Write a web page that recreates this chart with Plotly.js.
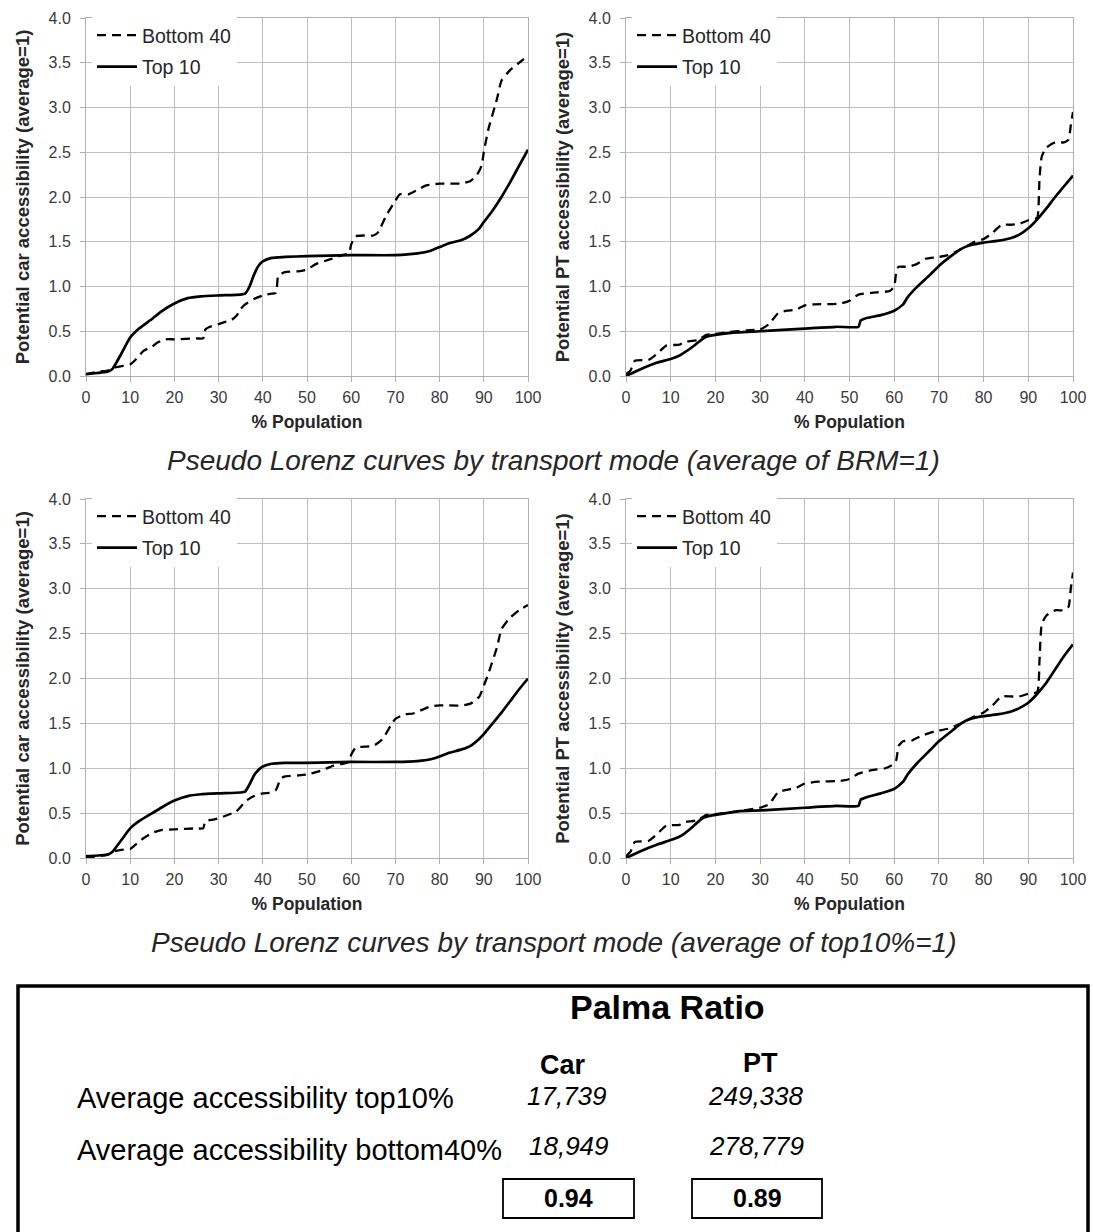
<!DOCTYPE html>
<html>
<head>
<meta charset="utf-8">
<script src="https://cdn.plot.ly/plotly-3.0.1.min.js"></script>
<style>html,body{margin:0;padding:0;background:#fff}#chart{width:1093px;height:1232px}</style>
</head>
<body>
<div id="chart"></div>
<script>
// ---- Data ----
// Panel A: car, average of BRM = 1
const carBrmTopX = [0,5,6,8,10,12,15,17,20,23,26,30,35,36,37,38,39,40,42,45,50,60,70,75,78,80,82,85,87,89,90,92,94,96,98,100];
const carBrmTopY = [0.02,0.05,0.08,0.25,0.43,0.53,0.64,0.72,0.81,0.87,0.89,0.90,0.91,0.92,1.0,1.13,1.23,1.28,1.32,1.33,1.34,1.35,1.35,1.37,1.40,1.44,1.48,1.52,1.57,1.65,1.72,1.85,2.0,2.17,2.35,2.53];
const carBrmBotX = [0,3,5,6,8,10,11,13,15,16,18,20,25,26.5,27,28,30,33,34,35,36,38,40,42,43,43.5,45,48,50,52,55,58,59.5,60,61,63,65,66,68,70,71,73,75,77,80,85,87,88.5,89.5,90,91,93,94,96,98,100];
const carBrmBotY = [0.02,0.05,0.06,0.09,0.11,0.13,0.17,0.28,0.33,0.37,0.41,0.41,0.42,0.42,0.52,0.55,0.58,0.63,0.67,0.75,0.80,0.86,0.90,0.92,0.93,1.12,1.16,1.17,1.19,1.25,1.30,1.35,1.37,1.47,1.56,1.57,1.57,1.60,1.80,1.96,2.03,2.03,2.08,2.13,2.15,2.15,2.18,2.25,2.35,2.50,2.75,3.10,3.30,3.42,3.50,3.58];
// Panel B: PT, average of BRM = 1
const ptBrmTopX = [0,3,7,10,12,13,15,17,18,20,23,30,40,47,52,52.5,54,57,60,62,63,65,68,70,73,75,77,80,83,86,88,90,92,94,96,98,100];
const ptBrmTopY = [0.0,0.07,0.15,0.19,0.23,0.26,0.33,0.41,0.44,0.46,0.48,0.50,0.53,0.55,0.55,0.62,0.65,0.68,0.73,0.80,0.88,0.99,1.13,1.23,1.35,1.42,1.46,1.49,1.51,1.54,1.58,1.65,1.75,1.87,2.0,2.12,2.24];
const ptBrmBotX = [0,1,2,5,7,9,12,13,16,18,20,23,27,30,32,34,36,38,40,42,48,50,52,55,59,60,60.5,61,63,65,67,70,72,75,78,80,82,84,86,88,90,91,92,92.5,93,94,96,98,99,99.5,100];
const ptBrmBotY = [0.02,0.06,0.17,0.18,0.25,0.34,0.35,0.38,0.40,0.46,0.47,0.49,0.51,0.52,0.58,0.70,0.73,0.74,0.79,0.80,0.81,0.84,0.91,0.93,0.95,1.0,1.18,1.22,1.22,1.25,1.31,1.33,1.35,1.42,1.50,1.53,1.60,1.69,1.69,1.70,1.74,1.75,1.77,2.2,2.45,2.55,2.61,2.61,2.64,2.80,2.95];
// Panel C: car, average of top10% = 1
const carTopTopX = [0,5,6,8,10,12,15,17,20,23,26,30,35,36,37,38,39,40,42,45,50,60,70,75,78,80,82,85,87,89,90,92,94,96,98,100];
const carTopTopY = [0.02,0.04,0.07,0.20,0.33,0.41,0.50,0.56,0.64,0.69,0.71,0.72,0.73,0.74,0.82,0.92,0.98,1.02,1.05,1.06,1.06,1.07,1.07,1.08,1.10,1.13,1.17,1.21,1.25,1.33,1.38,1.50,1.62,1.75,1.88,2.0];
const carTopBotX = [0,3,5,6,8,10,11,13,15,17,20,25,26.5,27,29,31,34,35,36,38,40,42,43,44,45,48,50,53,56,58,59.5,60,61,63,65,67,69,70,72,74,76,78,80,85,87,89,90,91,93,94,96,98,100];
const carTopBotY = [0.01,0.02,0.04,0.07,0.09,0.10,0.14,0.22,0.28,0.31,0.32,0.33,0.33,0.41,0.43,0.46,0.52,0.57,0.63,0.69,0.72,0.73,0.76,0.88,0.91,0.92,0.93,0.97,1.03,1.05,1.07,1.15,1.23,1.24,1.25,1.32,1.48,1.55,1.60,1.61,1.65,1.69,1.70,1.70,1.72,1.80,1.92,2.05,2.35,2.55,2.68,2.76,2.82];
// Panel D: PT, average of top10% = 1
const ptTopTopX = [0,3,7,10,12,13,15,17,18,20,25,30,40,47,52,52.5,54,57,60,62,63,65,68,70,73,75,77,80,83,86,88,90,92,94,96,98,100];
const ptTopTopY = [0.0,0.07,0.15,0.20,0.24,0.27,0.35,0.44,0.46,0.48,0.52,0.53,0.56,0.58,0.58,0.65,0.68,0.72,0.77,0.85,0.93,1.05,1.20,1.30,1.42,1.50,1.55,1.58,1.60,1.63,1.67,1.73,1.83,1.95,2.10,2.25,2.38];
const ptTopBotX = [0,1,2,5,7,9,12,13,16,18,20,25,30,32,34,36,38,40,43,48,50,52,55,58,60,60.5,61,62,64,66,69,72,75,78,80,82,84,86,88,90,92,92.5,93,94,96,98,99,99.5,100];
const ptTopBotY = [0.02,0.07,0.18,0.19,0.27,0.36,0.37,0.40,0.42,0.48,0.49,0.52,0.56,0.60,0.73,0.76,0.78,0.83,0.85,0.86,0.88,0.94,0.98,1.0,1.05,1.10,1.25,1.30,1.31,1.36,1.41,1.44,1.50,1.58,1.62,1.70,1.80,1.80,1.80,1.83,1.85,2.2,2.6,2.7,2.76,2.76,2.8,3.0,3.18];

const seriesNames = ['Bottom 40', 'Top 10'];
const xTicks = [0,10,20,30,40,50,60,70,80,90,100];
const yTicks = [0,0.5,1,1.5,2,2.5,3,3.5,4];
const yTickText = ['0.0','0.5','1.0','1.5','2.0','2.5','3.0','3.5','4.0'];
const xTitle = '% Population';
const yTitles = ['Potential car accessibility (average=1)', 'Potential PT accessibility (average=1)',
                 'Potential car accessibility (average=1)', 'Potential PT accessibility (average=1)'];
const captions = ['Pseudo Lorenz curves by transport mode (average of BRM=1)',
                  'Pseudo Lorenz curves by transport mode (average of top10%=1)'];
const tableTitle = 'Palma Ratio';
const tableCols = ['Car', 'PT'];
const tableRows = ['Average accessibility top10%', 'Average accessibility bottom40%'];
const carValues = ['17,739', '18,949'];
const ptValues = ['249,338', '278,779'];
const palma = ['0.94', '0.89'];

// ---- Layout helpers ----
const W = 1093, H = 1232;
const px = v => v / W;
const py = v => 1 - v / H;
const FONT = 'Liberation Sans, Arial, sans-serif';

const panels = [
  {top: carBrmTopX, topY: carBrmTopY, bot: carBrmBotX, botY: carBrmBotY},
  {top: ptBrmTopX, topY: ptBrmTopY, bot: ptBrmBotX, botY: ptBrmBotY},
  {top: carTopTopX, topY: carTopTopY, bot: carTopBotX, botY: carTopBotY},
  {top: ptTopTopX, topY: ptTopTopY, bot: ptTopBotX, botY: ptTopBotY}
];
const boxes = [
  {x0: 86, x1: 528, y0: 18, y1: 376},
  {x0: 626, x1: 1073, y0: 18, y1: 376},
  {x0: 86, x1: 528, y0: 499, y1: 858},
  {x0: 626, x1: 1073, y0: 499, y1: 858}
];

const traces = [];
const layout = {
  width: W, height: H,
  margin: {l: 0, r: 0, t: 0, b: 0},
  paper_bgcolor: '#fff', plot_bgcolor: '#fff',
  font: {family: FONT, color: '#262626'},
  showlegend: true,
  shapes: [], annotations: []
};

panels.forEach((p, i) => {
  const n = i + 1;
  const xa = n === 1 ? 'x' : 'x' + n;
  const ya = n === 1 ? 'y' : 'y' + n;
  const lg = n === 1 ? 'legend' : 'legend' + n;
  traces.push({
    x: p.bot, y: p.botY, xaxis: xa, yaxis: ya, type: 'scatter', mode: 'lines',
    name: seriesNames[0], legend: lg, legendgroup: 'b' + n,
    line: {color: '#000', width: 2.3, dash: '9px,6px', shape: 'spline', smoothing: 0.5}
  });
  traces.push({
    x: p.top, y: p.topY, xaxis: xa, yaxis: ya, type: 'scatter', mode: 'lines',
    name: seriesNames[1], legend: lg, legendgroup: 't' + n,
    line: {color: '#000', width: 2.7, shape: 'spline', smoothing: 0.5}
  });
  const b = boxes[i];
  const axBase = {
    showgrid: true, gridcolor: '#bdbdbd', gridwidth: 1,
    showline: true, linecolor: '#b0b0b0', linewidth: 1, mirror: true,
    zeroline: false, ticks: 'outside', ticklen: 5, tickcolor: '#b0b0b0', tickwidth: 1,
    fixedrange: true,
    tickfont: {family: FONT, size: 16, color: '#3a3a3a'}
  };
  layout['xaxis' + (n === 1 ? '' : n)] = Object.assign({}, axBase, {
    domain: [px(b.x0), px(b.x1)], range: [0, 100], anchor: ya,
    tickvals: xTicks, ticklabelstandoff: 2,
    title: {text: '<b>' + xTitle + '</b>', font: {family: FONT, size: 17.5, color: '#262626'}, standoff: 10}
  });
  layout['yaxis' + (n === 1 ? '' : n)] = Object.assign({}, axBase, {
    domain: [py(b.y1), py(b.y0)], range: [0, 4], anchor: xa,
    tickvals: yTicks, ticktext: yTickText, ticklabelstandoff: 6,
    title: {text: '<b>' + yTitles[i] + '</b>', font: {family: FONT, size: 18.5, color: '#262626'}, standoff: 14}
  });
  layout[lg] = {
    x: px(b.x0 + 6), y: py(b.y0 - 2), xanchor: 'left', yanchor: 'top',
    xref: 'paper', yref: 'paper',
    bgcolor: '#fff', borderwidth: 0,
    font: {family: FONT, size: 19.5, color: '#262626'},
    traceorder: 'grouped', tracegroupgap: 3, itemwidth: 40
  };
});

// Captions
[460, 942].forEach((y, i) => {
  layout.annotations.push({
    xref: 'paper', yref: 'paper', x: px(553), y: py(y), xanchor: 'center', yanchor: 'middle',
    text: '<i>' + captions[i] + '</i>', showarrow: false,
    font: {family: FONT, size: 28, color: '#262626'}
  });
});

// Palma ratio table
layout.shapes.push({type: 'rect', xref: 'paper', yref: 'paper',
  x0: px(18), x1: px(1088), y0: py(1245), y1: py(986), line: {color: '#000', width: 3.5}, fillcolor: 'rgba(0,0,0,0)'});
layout.shapes.push({type: 'rect', xref: 'paper', yref: 'paper',
  x0: px(503), x1: px(634), y0: py(1218), y1: py(1179), line: {color: '#000', width: 1.8}});
layout.shapes.push({type: 'rect', xref: 'paper', yref: 'paper',
  x0: px(692), x1: px(822), y0: py(1218), y1: py(1179), line: {color: '#000', width: 1.8}});

function ann(x, y, text, size, anchor) {
  layout.annotations.push({xref: 'paper', yref: 'paper', x: px(x), y: py(y),
    xanchor: anchor || 'center', yanchor: 'middle', text: text, showarrow: false,
    font: {family: FONT, size: size, color: '#000'}});
}
ann(667, 1007, '<b>' + tableTitle + '</b>', 34);
ann(563, 1065, '<b>' + tableCols[0] + '</b>', 27);
ann(760, 1063, '<b>' + tableCols[1] + '</b>', 27);
ann(75, 1098, tableRows[0], 29, 'left');
ann(75, 1150, tableRows[1], 29, 'left');
ann(567, 1096, '<i>' + carValues[0] + '</i>', 26);
ann(569, 1146, '<i>' + carValues[1] + '</i>', 26);
ann(756, 1096, '<i>' + ptValues[0] + '</i>', 26);
ann(756, 1146, '<i>' + ptValues[1] + '</i>', 26);
ann(568, 1198, '<b>' + palma[0] + '</b>', 25);
ann(757, 1198, '<b>' + palma[1] + '</b>', 25);

Plotly.newPlot('chart', traces, layout, {staticPlot: true, displayModeBar: false});
</script>
</body>
</html>
